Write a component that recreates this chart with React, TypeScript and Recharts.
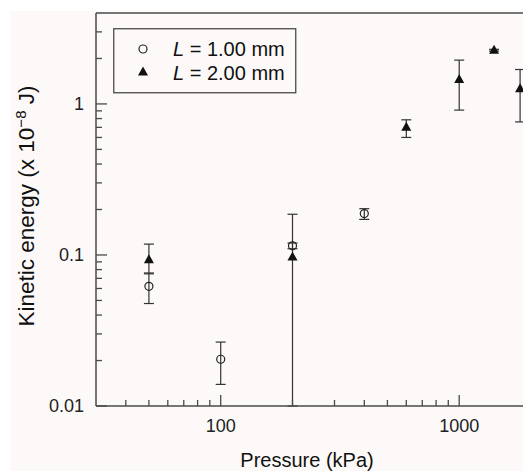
import React from "react";
import {
  ScatterChart,
  Scatter,
  XAxis,
  YAxis,
  ErrorBar,
  Legend,
  ReferenceLine,
  Label,
} from "recharts";

// L = 1.00 mm
const pressure1 = [50, 100, 200, 400];
const energy1 = [0.062, 0.0204, 0.115, 0.188];
const errLow1 = [0.0143, 0.0065, 0.005, 0.016];
const errHigh1 = [0.014, 0.0061, 0.005, 0.0145];

// L = 2.00 mm (lower bar at 200 kPa runs down to the axis)
const pressure2 = [50, 200, 600, 1000, 1400, 1800];
const energy2 = [0.093, 0.097, 0.7, 1.45, 2.27, 1.26];
const errLow2 = [0.018, 0.087, 0.1, 0.54, 0.03, 0.5];
const errHigh2 = [0.025, 0.089, 0.085, 0.5, 0.03, 0.43];

const xTicks = [40, 50, 60, 70, 80, 90, 100, 200, 300, 400, 500, 600, 700, 800, 900, 1000];
const xLabelled = [100, 1000];
const yTicks = [
  0.01, 0.02, 0.03, 0.04, 0.05, 0.06, 0.07, 0.08, 0.09, 0.1,
  0.2, 0.3, 0.4, 0.5, 0.6, 0.7, 0.8, 0.9, 1, 2, 3,
];
const yLabelled = [0.01, 0.1, 1];

const series1 = pressure1.map((p, i) => ({ p, e: energy1[i], err: [errLow1[i], errHigh1[i]] }));
const series2 = pressure2.map((p, i) => ({ p, e: energy2[i], err: [errLow2[i], errHigh2[i]] }));

const AXIS = "#4a4a4a";
const FONT = "'Liberation Sans', Arial, sans-serif";

const XTick = (props: any) => {
  const { x, y, payload } = props;
  const major = xLabelled.includes(payload.value);
  return (
    <g>
      <line x1={x} x2={x} y1={y} y2={y - (major ? 11 : 6)} stroke={AXIS} strokeWidth={1.3} />
      {major && (
        <text x={x} y={y + 13} dy="0.71em" textAnchor="middle" fontSize={18} fontFamily={FONT} fill="#222">
          {payload.value}
        </text>
      )}
    </g>
  );
};

const YTick = (props: any) => {
  const { x, y, payload } = props;
  const major = yLabelled.includes(payload.value);
  return (
    <g>
      <line x1={x} x2={x + (major ? 11 : 6)} y1={y} y2={y} stroke={AXIS} strokeWidth={1.3} />
      {major && (
        <text x={x - 12} y={y} dy="0.36em" textAnchor="end" fontSize={18} fontFamily={FONT} fill="#222">
          {payload.value}
        </text>
      )}
    </g>
  );
};

const OpenCircle = (p: any) => (
  <circle cx={p.cx} cy={p.cy} r={4} fill="none" stroke="#222" strokeWidth={1.2} />
);

const FilledTriangle = (p: any) => (
  <path
    d={`M${p.cx},${p.cy - 5.5}L${p.cx + 5},${p.cy + 3.5}L${p.cx - 5},${p.cy + 3.5}Z`}
    fill="#111"
  />
);

const renderLegend = () => (
  <svg width={184} height={66} style={{ display: "block" }}>
    <rect x={0.75} y={0.75} width={182} height={64} fill="none" stroke={AXIS} strokeWidth={1.3} />
    <circle cx={30} cy={21} r={4} fill="none" stroke="#222" strokeWidth={1.2} />
    <path d="M30,38.5L35,47.5L25,47.5Z" fill="#111" />
    <text x={60} y={28} fontSize={20} fontFamily={FONT} fill="#111">
      <tspan fontStyle="italic">L</tspan> = 1.00 mm
    </text>
    <text x={60} y={51.5} fontSize={20} fontFamily={FONT} fill="#111">
      <tspan fontStyle="italic">L</tspan> = 2.00 mm
    </text>
  </svg>
);

const YTitle = () => (
  <text
    transform="translate(34,206) rotate(-90)"
    textAnchor="middle"
    fontSize={22.5}
    fontFamily={FONT}
    fill="#111"
  >
    Kinetic energy (x 10
    <tspan dy={-8} fontSize={15}>−8</tspan>
    <tspan dy={8}> J)</tspan>
  </text>
);

const XTitle = () => (
  <text x={307} y={467} textAnchor="middle" fontSize={20} fontFamily={FONT} fill="#111">
    Pressure (kPa)
  </text>
);

export default function App() {
  return (
    <div
      style={{
        position: "fixed",
        left: 0,
        top: 0,
        width: 523,
        height: 471,
        overflow: "hidden",
        background: "#ffffff",
      }}
    >
      <div
        style={{
          position: "absolute",
          left: 10,
          top: 11,
          right: 0,
          bottom: 0,
          background: "#fcf9f8",
        }}
      />
      <div style={{ position: "absolute", left: 0, top: 0 }}>
        <ScatterChart width={560} height={471} margin={{ top: 13, right: 29, bottom: 35, left: 0 }}>
          <XAxis
            type="number"
            dataKey="p"
            scale="log"
            domain={[30, 2000]}
            ticks={xTicks}
            interval={0}
            allowDataOverflow
            height={30}
            tickSize={0}
            tickMargin={0}
            tickLine={false}
            axisLine={{ stroke: AXIS, strokeWidth: 1.5 }}
            tick={<XTick />}
          >
            <Label content={<XTitle />} />
          </XAxis>
          <YAxis
            type="number"
            dataKey="e"
            scale="log"
            domain={[0.01, 4]}
            ticks={yTicks}
            interval={0}
            allowDataOverflow
            width={96}
            tickSize={0}
            tickMargin={0}
            tickLine={false}
            axisLine={{ stroke: AXIS, strokeWidth: 1.5 }}
            tick={<YTick />}
          >
            <Label content={<YTitle />} />
          </YAxis>
          <ReferenceLine y={4} stroke={AXIS} strokeWidth={1.5} />
          <Legend
            layout="horizontal"
            verticalAlign="middle"
            align="center"
            wrapperStyle={{ left: 113, top: 28, width: 184, height: 66 }}
            content={renderLegend}
          />
          <Scatter
            name="L = 1.00 mm"
            data={series1}
            shape={OpenCircle}
            isAnimationActive={false}
          >
            <ErrorBar dataKey="err" direction="y" width={5} stroke="#333" strokeWidth={1.2} />
          </Scatter>
          <Scatter
            name="L = 2.00 mm"
            data={series2}
            shape={FilledTriangle}
            isAnimationActive={false}
          >
            <ErrorBar dataKey="err" direction="y" width={5} stroke="#333" strokeWidth={1.2} />
          </Scatter>
        </ScatterChart>
      </div>
    </div>
  );
}
